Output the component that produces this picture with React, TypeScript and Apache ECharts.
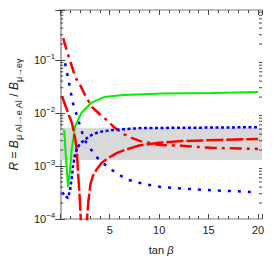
import React, { useEffect, useRef } from "react";
import * as echarts from "echarts";

// tan beta values and ratios R for each curve
const greenT = [0.4, 0.59, 0.79, 0.99, 1.15, 1.48, 2.14, 3.12, 4.43, 6.4, 10.3, 15.3, 20];
const greenR = [4.8e-3, 1.29e-3, 3.98e-4, 8.3e-4, 2.0e-3, 5.5e-3, 0.01, 0.0155, 0.02, 0.022, 0.0234, 0.024, 0.025];

const redDashT = [0.2, 0.3, 0.79, 1.18, 1.48, 1.67, 1.77, 1.97, 2.07, 2.2, 2.4, 2.55, 2.7, 2.85, 3.05, 3.3, 3.65, 4.2, 4.8, 5.7, 6.5, 8, 10, 12.3, 16, 20];
const redDashR = [0.021, 0.0178, 0.01, 6.5e-3, 3.5e-3, 2.0e-3, 9.0e-4, 2.5e-4, 1.0e-4, 3e-5, 1e-5, 3e-5, 1.0e-4, 2.2e-4, 4.5e-4, 6.5e-4, 8.5e-4, 1.15e-3, 1.4e-3, 1.75e-3, 2.0e-3, 2.45e-3, 2.75e-3, 2.95e-3, 3.1e-3, 3.25e-3];

const redDashDotT = [0.3, 0.7, 1.2, 1.5, 2.0, 2.5, 3.2, 4.1, 4.7, 5.4, 6.2, 7.2, 8.1, 10, 12.3, 15.3, 20];
const redDashDotR = [0.26, 0.14, 0.074, 0.048, 0.034, 0.022, 0.013, 9.1e-3, 7.4e-3, 5.5e-3, 4.2e-3, 3.4e-3, 2.95e-3, 2.5e-3, 2.4e-3, 2.2e-3, 2.1e-3];

const blueAT = [0.49, 0.99, 1.28, 1.67, 2.07, 2.46, 3.15, 3.94, 5.1, 6.7, 8.4, 10.3, 14.3, 19.2, 20];
const blueAR = [0.087, 0.0295, 0.0155, 9.1e-3, 5.2e-3, 3.1e-3, 2.0e-3, 1.29e-3, 8.7e-4, 5.6e-4, 4.6e-4, 4.0e-4, 3.55e-4, 3.25e-4, 3.2e-4];

const blueBT = [0.2, 0.49, 0.79, 0.99, 1.18, 1.28, 1.48, 1.77, 2.17, 2.96, 3.94, 5.4, 8.1, 14.3, 20];
const blueBR = [3.2e-4, 2.7e-4, 2.5e-4, 3.5e-4, 6.2e-4, 9.5e-4, 1.6e-3, 2.3e-3, 2.8e-3, 3.7e-3, 4.4e-3, 4.8e-3, 5.2e-3, 5.3e-3, 5.4e-3];

const bandRange = [1.3e-3, 5.3e-3];
const xTickLabels = [5, 10, 15, 20];
const yTickExponents = [-4, -3, -2, -1];

const X_MIN = 0;
const X_MAX = 20.4;
const Y_MIN = 1e-4;
const Y_MAX = 0.88;

export default function App() {
  const ref = useRef<HTMLDivElement>(null);
  useEffect(() => {
    if (!ref.current) return;
    const chart = echarts.init(ref.current, null, { renderer: "svg" });
    const font = "Liberation Sans";
    const zip = (a: number[], b: number[]) => a.map((x, i) => [x, b[i]]);
    const minorVals: number[][] = [];
    for (let e = -4; e <= -1; e++) {
      for (let k = 2; k <= 9; k++) {
        const v = k * Math.pow(10, e);
        if (v <= Y_MAX) minorVals.push([X_MIN, v]);
      }
    }
    const yLabel = (v: number) => {
      const l = Math.log10(v);
      const e = Math.round(l);
      if (Math.abs(l - e) > 1e-6 || !yTickExponents.includes(e)) return "";
      return `{b|10}{s|−${-e}}`;
    };
    const xLabel = (v: number) => (xTickLabels.includes(v) ? String(v) : "");
    const axisLineStyle = { color: "#a9a9a9", width: 1.5 };
    const tickStyle = { color: "#444", width: 1 };
    const baseX = {
      type: "value",
      min: X_MIN,
      max: X_MAX,
      interval: 5,
      axisLine: { show: true, lineStyle: axisLineStyle },
      axisTick: { show: true, inside: true, length: 5, lineStyle: tickStyle },
      minorTick: { show: true, splitNumber: 5, length: 3, lineStyle: tickStyle },
      splitLine: { show: false },
      minorSplitLine: { show: false },
    };
    const baseY = {
      type: "log",
      logBase: 10,
      min: Y_MIN,
      max: Y_MAX,
      axisLine: { show: true, lineStyle: axisLineStyle },
      axisTick: { show: true, inside: true, length: 5, lineStyle: tickStyle },
      splitLine: { show: false },
    };
    const option: any = {
      animation: false,
      grid: { left: 55, top: 10, right: 12, bottom: 55 },
      xAxis: [
        {
          ...baseX,
          position: "bottom",
          axisLabel: {
            formatter: xLabel,
            fontFamily: font,
            fontSize: 11,
            color: "#222",
            margin: 5,
          },
          name: "{n|tan }{i|β}",
          nameLocation: "middle",
          nameGap: 25,
          nameTextStyle: {
            rich: {
              n: { fontFamily: font, fontSize: 11, color: "#222" },
              i: { fontFamily: font, fontSize: 11, color: "#222", fontStyle: "italic" },
            },
          },
        },
        { ...baseX, position: "top", axisLabel: { show: false } },
      ],
      yAxis: [
        {
          ...baseY,
          position: "left",
          axisLabel: {
            formatter: yLabel,
            margin: 5,
            rich: {
              b: { fontFamily: font, fontSize: 11, color: "#222", lineHeight: 16 },
              s: { fontFamily: font, fontSize: 8, color: "#222", lineHeight: 8, verticalAlign: "top" },
            },
          },
          name: "{i|R}{n| = }{i|B}{sub|μ Al→e Al}{n| / }{i|B}{sub|μ→eγ}",
          nameLocation: "middle",
          nameRotate: 90,
          nameGap: 34,
          nameTextStyle: {
            rich: {
              i: { fontFamily: font, fontSize: 12, color: "#222", fontStyle: "italic", lineHeight: 18 },
              n: { fontFamily: font, fontSize: 12, color: "#222", lineHeight: 18 },
              sub: { fontFamily: font, fontSize: 9, color: "#222", lineHeight: 9, verticalAlign: "bottom" },
            },
          },
        },
        { ...baseY, position: "right", axisLabel: { show: false } },
      ],
      series: [
        {
          type: "line",
          data: [[X_MIN, 1e-3]],
          showSymbol: false,
          symbol: "none",
          lineStyle: { width: 0, opacity: 0 },
          z: 1,
          silent: true,
          markArea: {
            silent: true,
            itemStyle: { color: "#d9d9d9" },
            data: [[{ yAxis: bandRange[0] }, { yAxis: bandRange[1] }]],
          },
        },
        {
          type: "line",
          data: zip(greenT, greenR),
          symbol: "none",
          z: 3,
          lineStyle: { color: "#00ee00", width: 2, type: "solid" },
        },
        {
          type: "line",
          data: zip(redDashT, redDashR),
          symbol: "none",
          z: 3,
          lineStyle: { color: "#ff0000", width: 2.5, type: [17, 3] },
        },
        {
          type: "line",
          data: zip(redDashDotT, redDashDotR),
          symbol: "none",
          z: 3,
          lineStyle: { color: "#ff0000", width: 2.5, type: [12, 5, 3, 5] },
        },
        {
          type: "line",
          data: zip(blueAT, blueAR),
          symbol: "none",
          z: 3,
          lineStyle: { color: "#0000ff", width: 2.5, type: [3, 7] },
        },
        {
          type: "line",
          data: zip(blueBT, blueBR),
          symbol: "none",
          z: 3,
          lineStyle: { color: "#0000ff", width: 2.5, type: [3, 2.5] },
        },
        {
          type: "custom",
          silent: true,
          z: 5,
          clip: false,
          data: minorVals,
          renderItem: (_params: any, api: any) => {
            const v = api.value(1);
            const l = api.coord([X_MIN, v]);
            const r = api.coord([X_MAX, v]);
            return {
              type: "group",
              children: [
                { type: "line", shape: { x1: l[0], y1: l[1], x2: l[0] + 3, y2: l[1] }, style: { stroke: "#444", lineWidth: 1 } },
                { type: "line", shape: { x1: r[0] - 3, y1: r[1], x2: r[0], y2: r[1] }, style: { stroke: "#444", lineWidth: 1 } },
              ],
            };
          },
        },
      ],
    };
    chart.setOption(option);
    return () => chart.dispose();
  }, []);
  return <div ref={ref} style={{ width: 274, height: 274, position: "absolute", left: 0, top: 0 }} />;
}
